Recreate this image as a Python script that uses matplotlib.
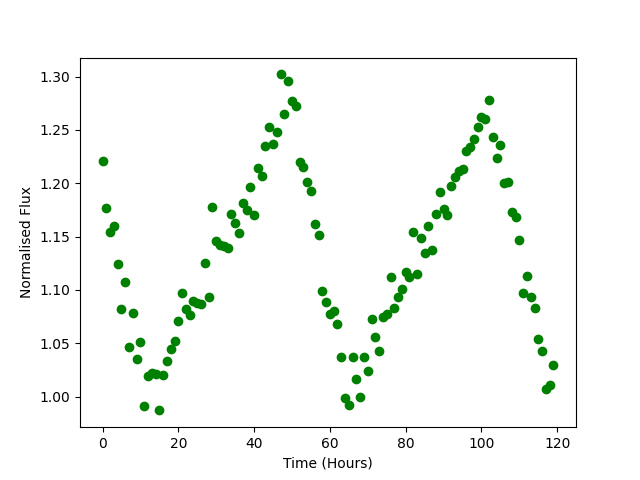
import numpy as np
import matplotlib
matplotlib.use('Agg')
import matplotlib.pyplot as plt

# Tempo em horas (uma medida por hora)
hours = np.arange(120)

# Fluxo normalizado
flux = [
    1.221, 1.177, 1.154, 1.160, 1.124, 1.082, 1.107, 1.046, 1.078, 1.035,
    1.051, 0.991, 1.019, 1.022, 1.021, 0.987, 1.020, 1.033, 1.045, 1.052,
    1.071, 1.097, 1.082, 1.076, 1.090, 1.088, 1.087, 1.125, 1.093, 1.178,
    1.146, 1.142, 1.141, 1.139, 1.171, 1.163, 1.153, 1.181, 1.175, 1.196,
    1.170, 1.214, 1.207, 1.235, 1.253, 1.237, 1.248, 1.302, 1.265, 1.296,
    1.277, 1.272, 1.220, 1.215, 1.201, 1.193, 1.162, 1.151, 1.099, 1.089,
    1.077, 1.080, 1.068, 1.037, 0.999, 0.992, 1.037, 1.016, 1.000, 1.037,
    1.024, 1.073, 1.056, 1.043, 1.075, 1.077, 1.112, 1.083, 1.093, 1.101,
    1.117, 1.112, 1.154, 1.115, 1.149, 1.135, 1.160, 1.137, 1.171, 1.192,
    1.176, 1.170, 1.197, 1.206, 1.211, 1.213, 1.230, 1.234, 1.241, 1.253,
    1.262, 1.260, 1.278, 1.243, 1.224, 1.236, 1.200, 1.201, 1.173, 1.168,
    1.147, 1.097, 1.113, 1.093, 1.083, 1.054, 1.043, 1.007, 1.011, 1.030,
]

fig, ax = plt.subplots(figsize=(6.4, 4.8), dpi=100)
ax.plot(hours, flux, 'o', color='green')
ax.set_xlabel('Time (Hours)')
ax.set_ylabel('Normalised Flux')

plt.savefig('out.png')
